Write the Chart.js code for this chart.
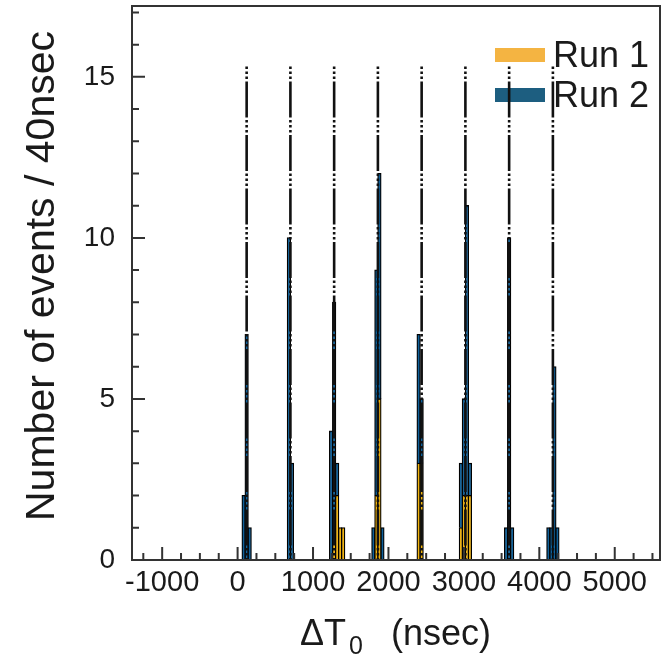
<!DOCTYPE html>
<html>
<head>
<meta charset="utf-8">
<script src="https://cdn.jsdelivr.net/npm/chart.js@4/dist/chart.umd.min.js"></script>
<style>
html,body{margin:0;padding:0;background:#fff;}
#wrap{width:661px;height:656px;position:relative;}
</style>
</head>
<body>
<div id="wrap"><canvas id="c" width="661" height="656"></canvas></div>
<script>
// ---- data (40 ns bins, values are bin centres in ns) ----
const binCenters = [80, 120, 160, 680, 720, 1240, 1280, 1320, 1360, 1400, 1800, 1840, 1880, 1920, 2400, 2440, 2960, 3000, 3040, 3080, 3560, 3600, 3640, 4120, 4160, 4200, 4240];
const run1Counts = [0, 0, 0, 0, 0, 0, 1, 2, 1, 1, 0, 2, 5, 0, 3, 3, 1, 2, 2, 2, 0, 0, 0, 0, 0, 0, 0];
const run2Counts = [2, 7, 1, 10, 3, 4, 7, 1, 0, 0, 1, 7, 7, 1, 4, 2, 2, 3, 9, 1, 1, 10, 1, 1, 1, 6, 1];
const bunchCenters = [120, 700, 1280, 1860, 2440, 3020, 3600, 4180];
const bunchLineTop = 15.4;
const seriesNames = ['Run 1', 'Run 2'];
const xTickLabels = [-1000, 0, 1000, 2000, 3000, 4000, 5000];
const yTickLabels = [0, 5, 10, 15];
const xMinorStep = 250;
const yMinorStep = 1;
const xRange = [-1400, 5600];
const yRange = [0, 17.2];
const yTitle = 'Number of events / 40nsec';

const FONT = "'Liberation Sans', Arial, Helvetica, sans-serif";
const TEXT = '#1a1a1a';
const AXIS = '#333333';
const COLORS = ['#F2B40F', '#10619A'];
const LEGEND_COLORS = ['#F4B442', '#1D5E80'];

function minorTicks(lo, hi, step) {
  const out = [];
  for (let v = Math.ceil(lo / step) * step; v <= hi; v += step) {
    if (v > lo && v < hi) out.push(v);
  }
  return out;
}

const barSets = [run1Counts, run2Counts].map((arr, k) => ({
  type: 'bar',
  label: seriesNames[k],
  data: binCenters.map((x, i) => ({ x: x, y: arr[i] })),
  backgroundColor: COLORS[k],
  borderColor: '#000000',
  borderWidth: 1.3,
  inflateAmount: 0.6,
  categoryPercentage: 1.0,
  barPercentage: 1.0,
  stack: 'hist',
  order: 2
}));

const lineSets = bunchCenters.map((x, i) => ({
  type: 'line',
  label: 'bunch' + i,
  data: [{ x: x, y: bunchLineTop }, { x: x, y: 0 }],
  borderColor: '#111111',
  borderWidth: 2.6,
  borderDash: [36, 2.5, 2.5, 2.5, 2.5, 2.5, 2.5, 2.5],
  borderDashOffset: 36,
  borderCapStyle: 'butt',
  pointRadius: 0,
  fill: false,
  tension: 0,
  stack: 'line' + i,
  order: 1
}));

const decor = {
  id: 'decor',
  beforeDraw(chart) {
    const ctx = chart.ctx;
    ctx.save();
    ctx.fillStyle = '#ffffff';
    ctx.fillRect(0, 0, chart.width, chart.height);
    ctx.restore();
  },
  beforeDatasetsDraw(chart) {
    // legend inside plot, top-right
    const ctx = chart.ctx;
    const rows = [{ by: 48, ty: 67 }, { by: 88, ty: 107 }];
    ctx.save();
    ctx.font = '36px ' + FONT;
    ctx.textBaseline = 'alphabetic';
    ctx.textAlign = 'left';
    barSets.forEach((ds, i) => {
      ctx.fillStyle = LEGEND_COLORS[i];
      ctx.fillRect(495, rows[i].by, 50, 14);
      ctx.fillStyle = TEXT;
      ctx.fillText(ds.label, 553, rows[i].ty);
    });
    ctx.restore();
  },
  afterDatasetsDraw(chart) {
    const ctx = chart.ctx;
    const a = chart.chartArea;
    const xs = chart.scales.x, ys = chart.scales.y;
    ctx.save();
    ctx.strokeStyle = AXIS;
    ctx.lineWidth = 2;
    ctx.beginPath();
    xs.ticks.forEach(t => {
      const p = xs.getPixelForValue(t.value);
      const len = xTickLabels.includes(t.value) ? 13 : 7;
      ctx.moveTo(p, a.bottom);
      ctx.lineTo(p, a.bottom - len);
    });
    ys.ticks.forEach(t => {
      const p = ys.getPixelForValue(t.value);
      const len = yTickLabels.includes(t.value) ? 13 : 7;
      ctx.moveTo(a.left, p);
      ctx.lineTo(a.left + len, p);
    });
    ctx.stroke();
    ctx.strokeRect(a.left, a.top, a.right - a.left, a.bottom - a.top);
    ctx.restore();
  },
  afterDraw(chart) {
    const ctx = chart.ctx;
    ctx.save();
    ctx.fillStyle = TEXT;
    ctx.textBaseline = 'alphabetic';
    ctx.textAlign = 'left';
    // x title: ΔT0 (nsec)
    ctx.font = '36px ' + FONT;
    ctx.fillText('ΔT', 300, 645);
    ctx.font = '25px ' + FONT;
    ctx.fillText('0', 349, 654);
    ctx.font = '36px ' + FONT;
    ctx.fillText('(nsec)', 391, 645);
    // y title
    ctx.translate(54, 276);
    ctx.rotate(-Math.PI / 2);
    ctx.textAlign = 'center';
    ctx.font = '41px ' + FONT;
    ctx.fillText(yTitle, 0, 0);
    ctx.restore();
  }
};

new Chart(document.getElementById('c'), {
  data: { datasets: [...lineSets, ...barSets] },
  options: {
    responsive: false,
    animation: false,
    layout: { padding: { top: 6, right: 1, left: 0, bottom: 0 } },
    plugins: { legend: { display: false }, tooltip: { enabled: false } },
    scales: {
      x: {
        type: 'linear',
        offset: false,
        min: xRange[0], max: xRange[1],
        stacked: true,
        grid: { display: false, drawTicks: false, offset: false },
        border: { display: false },
        afterBuildTicks: s => { s.ticks = minorTicks(xRange[0], xRange[1], xMinorStep).map(v => ({ value: v })); },
        ticks: {
          autoSkip: false, maxRotation: 0, minRotation: 0, padding: 6,
          color: TEXT, font: { family: FONT, size: 29 },
          callback: v => xTickLabels.includes(v) ? String(v) : ''
        },
        afterFit: s => { s.height = 96; s.paddingLeft = 0; s.paddingRight = 0; }
      },
      y: {
        type: 'linear',
        min: yRange[0], max: yRange[1],
        stacked: true,
        grid: { display: false, drawTicks: false },
        border: { display: false },
        afterBuildTicks: s => { s.ticks = [yRange[0], ...minorTicks(yRange[0], yRange[1], yMinorStep)].map(v => ({ value: v })); },
        ticks: {
          autoSkip: false, padding: 17,
          color: TEXT, font: { family: FONT, size: 28 },
          callback: v => yTickLabels.includes(v) ? String(v) : ''
        },
        afterFit: s => { s.width = 132; s.paddingTop = 0; s.paddingBottom = 0; }
      }
    }
  },
  plugins: [decor]
});
</script>
</body>
</html>
